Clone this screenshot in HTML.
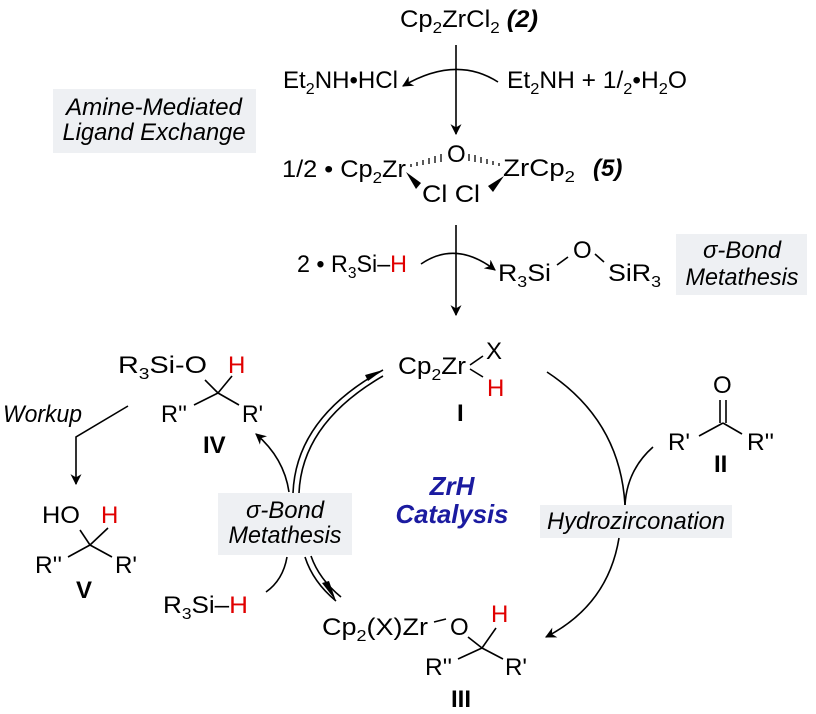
<!DOCTYPE html>
<html><head><meta charset="utf-8"><style>
html,body{margin:0;padding:0;background:#fff;}
svg{display:block;}
text{font-family:"Liberation Sans",Arial,sans-serif;font-size:24px;fill:#000;}
.i{font-style:italic;}
.b{font-weight:bold;}
.r{fill:#e00000;}
.s{font-size:16px;}
.bl{fill:#1b1ba0;font-weight:bold;font-style:italic;font-size:26px;}
.ln{stroke:#000;stroke-width:1.6;fill:none;}
</style></head><body>
<svg width="816" height="714" viewBox="0 0 816 714" xmlns="http://www.w3.org/2000/svg">
<defs>
<marker id="ah" viewBox="0 0 10 10" refX="9" refY="5" markerWidth="11" markerHeight="11" orient="auto-start-reverse" markerUnits="userSpaceOnUse">
<path d="M0,0 L10,5 L0,10 L3,5 z" fill="#000"/></marker>
</defs>
<!-- boxes -->
<rect x="53" y="89" width="203" height="64" fill="#eef0f3"/>
<rect x="676" y="234" width="131" height="61" fill="#eef0f3"/>
<rect x="218" y="493" width="134" height="62" fill="#eef0f3"/>
<rect x="540" y="505" width="192" height="33" fill="#eef0f3"/>

<!-- top -->
<text x="400" y="27" textLength="138" lengthAdjust="spacingAndGlyphs">Cp<tspan class="s" dy="6">2</tspan><tspan dy="-6">ZrCl</tspan><tspan class="s" dy="6">2</tspan><tspan dy="-6" class="b i"> (2)</tspan></text>
<line class="ln" x1="456" y1="45" x2="456" y2="134" marker-end="url(#ah)"/>
<path class="ln" d="M498,82 Q456,55 403,86" marker-end="url(#ah)"/>
<text x="283" y="88" textLength="115" lengthAdjust="spacingAndGlyphs">Et<tspan class="s" dy="6">2</tspan><tspan dy="-6">NH•HCl</tspan></text>
<text x="507" y="88" textLength="180" lengthAdjust="spacingAndGlyphs">Et<tspan class="s" dy="6">2</tspan><tspan dy="-6">NH + 1/</tspan><tspan class="s" dy="6">2</tspan><tspan dy="-6">•H</tspan><tspan class="s" dy="6">2</tspan><tspan dy="-6">O</tspan></text>
<text class="i" x="154" y="115" text-anchor="middle" textLength="176" lengthAdjust="spacingAndGlyphs">Amine-Mediated</text>
<text class="i" x="154" y="140" text-anchor="middle" textLength="183" lengthAdjust="spacingAndGlyphs">Ligand Exchange</text>

<!-- dimer 5 -->
<text x="282" y="177" textLength="124" lengthAdjust="spacingAndGlyphs">1/2 • Cp<tspan class="s" dy="6">2</tspan><tspan dy="-6">Zr</tspan></text>
<text x="447" y="162">O</text>
<text x="503" y="176" textLength="72" lengthAdjust="spacingAndGlyphs">ZrCp<tspan class="s" dy="6">2</tspan></text>
<text class="b i" x="593" y="176">(5)</text>
<text x="422" y="202" textLength="58" lengthAdjust="spacingAndGlyphs">Cl Cl</text>
<g stroke="#000" stroke-width="1.3">
<line x1="411" y1="167" x2="411" y2="164"/><line x1="417" y1="166" x2="417" y2="162"/><line x1="423" y1="165" x2="423" y2="160"/><line x1="429" y1="164" x2="429" y2="158"/><line x1="435" y1="163" x2="435" y2="156"/><line x1="441" y1="162" x2="441" y2="154"/>
<line x1="469" y1="154" x2="469" y2="161"/><line x1="475" y1="155" x2="475" y2="162"/><line x1="481" y1="157" x2="481" y2="163"/><line x1="487" y1="159" x2="487" y2="164"/><line x1="493" y1="161" x2="493" y2="165"/><line x1="499" y1="163" x2="499" y2="166"/>
</g>
<path d="M406,172 L421,183 L416,189 z" fill="#000"/>
<path d="M504,176 L488,186 L493,192 z" fill="#000"/>

<!-- second step -->
<line class="ln" x1="456" y1="225" x2="456" y2="315" marker-end="url(#ah)"/>
<path class="ln" d="M421,264 Q456,240 495,270" marker-end="url(#ah)"/>
<text x="297" y="272" textLength="110" lengthAdjust="spacingAndGlyphs">2 • R<tspan class="s" dy="6">3</tspan><tspan dy="-6">Si–</tspan><tspan class="r">H</tspan></text>
<text x="498" y="281" textLength="53" lengthAdjust="spacingAndGlyphs">R<tspan class="s" dy="6">3</tspan><tspan dy="-6">Si</tspan></text>
<text x="573" y="258">O</text>
<line class="ln" x1="557" y1="265" x2="568" y2="257"/>
<line class="ln" x1="595" y1="254" x2="604" y2="262"/>
<text x="608" y="281" textLength="53" lengthAdjust="spacingAndGlyphs">SiR<tspan class="s" dy="6">3</tspan></text>
<text class="i" x="742" y="258" text-anchor="middle" textLength="78" lengthAdjust="spacingAndGlyphs">σ-Bond</text>
<text class="i" x="742" y="285" text-anchor="middle" textLength="113" lengthAdjust="spacingAndGlyphs">Metathesis</text>

<!-- I -->
<text x="398" y="374" textLength="68" lengthAdjust="spacingAndGlyphs">Cp<tspan class="s" dy="6">2</tspan><tspan dy="-6">Zr</tspan></text>
<text x="486" y="359">X</text>
<text class="r" x="487" y="396">H</text>
<line class="ln" x1="470" y1="365" x2="483" y2="356" stroke-width="1.3"/>
<line class="ln" x1="470" y1="369" x2="483" y2="377" stroke-width="1.3"/>
<text class="b" x="457" y="421">I</text>

<!-- IV -->
<text x="118" y="373" textLength="89" lengthAdjust="spacingAndGlyphs">R<tspan class="s" dy="6">3</tspan><tspan dy="-6">Si-O</tspan></text>
<text class="r" x="228" y="373">H</text>
<line class="ln" x1="205" y1="380" x2="218" y2="393"/>
<line class="ln" x1="232" y1="376" x2="218" y2="393"/>
<line class="ln" x1="218" y1="393" x2="194" y2="405"/>
<line class="ln" x1="218" y1="393" x2="239" y2="405"/>
<text x="161" y="422" textLength="26" lengthAdjust="spacingAndGlyphs">R''</text>
<text x="242" y="422" textLength="21" lengthAdjust="spacingAndGlyphs">R'</text>
<text class="b" x="203" y="453">IV</text>

<!-- workup -->
<text class="i" x="3" y="422" textLength="79" lengthAdjust="spacingAndGlyphs">Workup</text>
<path class="ln" d="M128,406 L76,437 L76,484" marker-end="url(#ah)"/>

<!-- V -->
<text x="42" y="523" textLength="38" lengthAdjust="spacingAndGlyphs">HO</text>
<text class="r" x="101" y="523">H</text>
<line class="ln" x1="80" y1="530" x2="90" y2="545"/>
<line class="ln" x1="108" y1="528" x2="90" y2="545"/>
<line class="ln" x1="90" y1="545" x2="68" y2="557"/>
<line class="ln" x1="90" y1="545" x2="112" y2="557"/>
<text x="35" y="573" textLength="27" lengthAdjust="spacingAndGlyphs">R''</text>
<text x="115" y="573" textLength="22" lengthAdjust="spacingAndGlyphs">R'</text>
<text class="b" x="76" y="598">V</text>

<!-- left σ-bond box -->
<text class="i" x="285" y="518" text-anchor="middle" textLength="78" lengthAdjust="spacingAndGlyphs">σ-Bond</text>
<text class="i" x="285" y="543" text-anchor="middle" textLength="113" lengthAdjust="spacingAndGlyphs">Metathesis</text>
<!-- double arrow up to I -->
<path class="ln" d="M293,493 Q296,418 383,370"/>
<path class="ln" d="M299,493 Q302,423 383,376"/>
<path d="M383,370 L365,375 L368,381 z" fill="#000"/>
<!-- arrow to IV -->
<path class="ln" d="M289,492 Q284,458 256,434" marker-end="url(#ah)"/>
<!-- bottom -->
<path class="ln" d="M287,557 Q283,580 266,592"/>
<path class="ln" d="M305,557 Q313,582 336,601"/>
<path class="ln" d="M311,556 Q319,579 341,597"/>
<path d="M336,601 L322,583 L329,581 z" fill="#000"/>
<text x="163" y="613" textLength="85" lengthAdjust="spacingAndGlyphs">R<tspan class="s" dy="6">3</tspan><tspan dy="-6">Si–</tspan><tspan class="r">H</tspan></text>

<!-- center -->
<text class="bl" x="452" y="495" text-anchor="middle">ZrH</text>
<text class="bl" x="452" y="523" text-anchor="middle" textLength="113" lengthAdjust="spacingAndGlyphs">Catalysis</text>

<!-- right arc -->
<path class="ln" d="M547,372 Q620,420 625,505"/>
<path class="ln" d="M653,447 Q627,470 625,505"/>
<path class="ln" d="M619,538 Q608,605 546,637" marker-end="url(#ah)"/>
<text class="i" x="636" y="529" text-anchor="middle" textLength="178" lengthAdjust="spacingAndGlyphs">Hydrozirconation</text>

<!-- II -->
<text x="713" y="393">O</text>
<line class="ln" x1="720" y1="400" x2="720" y2="423"/>
<line class="ln" x1="726" y1="400" x2="726" y2="423"/>
<line class="ln" x1="723" y1="423" x2="699" y2="436"/>
<line class="ln" x1="723" y1="423" x2="742" y2="434"/>
<text x="668" y="450" textLength="22" lengthAdjust="spacingAndGlyphs">R'</text>
<text x="747" y="450" textLength="27" lengthAdjust="spacingAndGlyphs">R''</text>
<text class="b" x="714" y="472">II</text>

<!-- III -->
<text x="322" y="635" textLength="106" lengthAdjust="spacingAndGlyphs">Cp<tspan class="s" dy="6">2</tspan><tspan dy="-6">(X)Zr</tspan></text>
<text x="450" y="635">O</text>
<line class="ln" x1="434" y1="622" x2="446" y2="619"/>
<text class="r" x="491" y="622">H</text>
<line class="ln" x1="468" y1="637" x2="482" y2="648"/>
<line class="ln" x1="496" y1="628" x2="482" y2="648"/>
<line class="ln" x1="482" y1="648" x2="458" y2="659"/>
<line class="ln" x1="482" y1="648" x2="503" y2="659"/>
<text x="425" y="675" textLength="27" lengthAdjust="spacingAndGlyphs">R''</text>
<text x="505" y="675" textLength="22" lengthAdjust="spacingAndGlyphs">R'</text>
<text class="b" x="451" y="707">III</text>
</svg>
</body></html>
